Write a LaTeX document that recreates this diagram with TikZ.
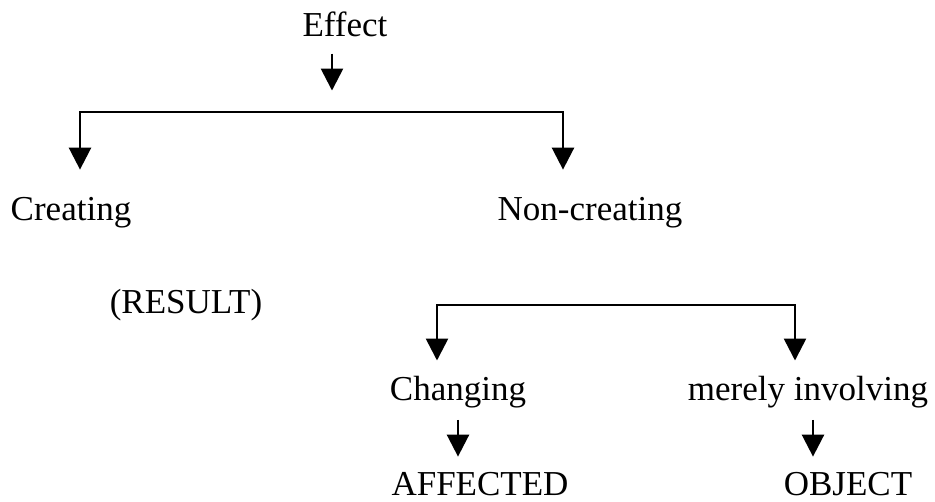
\documentclass[tikz,border=0pt]{standalone}
\usepackage{fontspec}
\setmainfont{Liberation Serif}
\usetikzlibrary{arrows.meta}
\tikzset{lbl/.style={anchor=base, inner sep=0pt, font=\fontsize{35}{42}\selectfont}}
\tikzset{tip/.style={line width=2.6pt, -{Triangle[width=22pt,length=22pt]}}}
\tikzset{fork/.style={line width=2.6pt, {Triangle[width=22pt,length=22pt]}-{Triangle[width=22pt,length=22pt]}}}

\begin{document}
\begin{tikzpicture}[x=1pt,y=-1pt]
\useasboundingbox (0,0) rectangle (935,502);

\node[lbl] (effect) at (345,37) {Effect};

\node[lbl] (creating) at (71,221) {Creating};
\node[lbl] (noncreating) at (590,221) {Non-creating};
\node[lbl] (result) at (186,314) {(RESULT)};

\node[lbl] (changing) at (458,401) {Changing};
\node[lbl] (involving) at (808,401) {merely involving};
\node[lbl] (affected) at (480,496) {AFFECTED};
\node[lbl] (object) at (848,496) {OBJECT};

% corners of the two forks
\coordinate (c1) at (80,112);
\coordinate (c2) at (563,112);
\coordinate (c3) at (437,305);
\coordinate (c4) at (795,305);

\draw[tip, shorten <=16pt] ([xshift=-13pt]effect.south) -- ++(0,53);

\draw[fork, shorten <=28pt, shorten >=28pt] (creating.north -| c1) -- (c1) -- (c2) -- (noncreating.north -| c2);
\draw[fork, shorten <=16pt, shorten >=16pt] (changing.north -| c3) -- (c3) -- (c4) -- (involving.north -| c4);

\draw[tip, shorten <=11pt, shorten >=16pt] (changing.south) -- (changing.south |- affected.north);
\draw[tip, shorten <=11pt, shorten >=16pt] ([xshift=5pt]involving.south) -- ([xshift=5pt]involving.south |- object.north);

\end{tikzpicture}
\end{document}
